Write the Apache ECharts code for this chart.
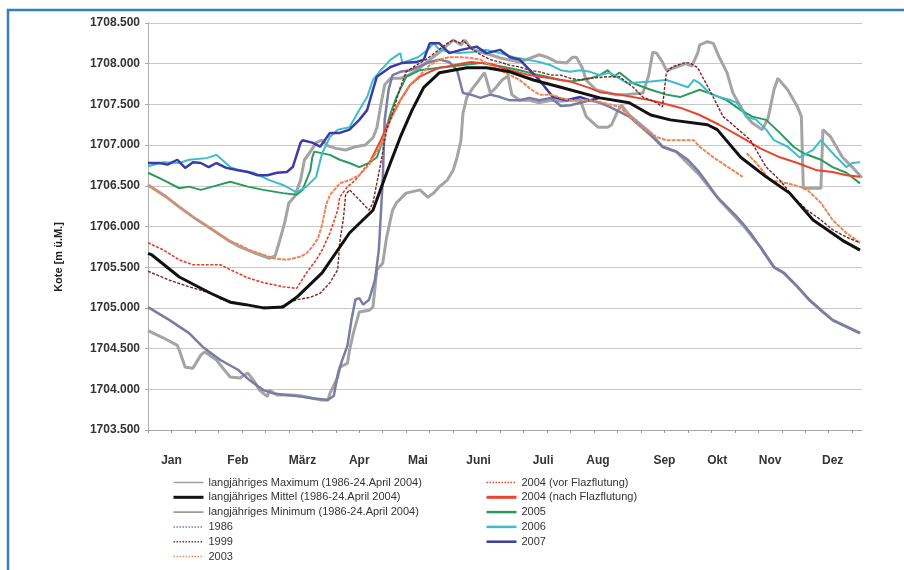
<!DOCTYPE html>
<html><head><meta charset="utf-8">
<script src="https://cdn.jsdelivr.net/npm/echarts@6/dist/echarts.min.js"></script>
<style>html,body{margin:0;padding:0;background:#fff}#c{width:904px;height:570px}</style>
</head><body><div id="c"></div>
<script>
// ---- axis / label data ----
const monthNames = ['Jan','Feb','März','Apr','Mai','Juni','Juli','Aug','Sep','Okt','Nov','Dez'];
const monthLabelDays = [12,46,79,108,138,169,202,230,264,291,318,350];
const yAxisMin = 1703.5, yAxisMax = 1708.5, yAxisStep = 0.5;

// ---- series values: [day of year, Kote m ü.M.] ----
const maxLevel = [[0,1706.51],[9,1706.37],[16,1706.24],[24,1706.10],[33,1705.96],[41,1705.83],[47,1705.75],[55,1705.67],[62,1705.61],[65,1705.64],[67,1705.80],[70,1706.06],[72,1706.29],[75,1706.37],[78,1706.57],[80,1706.82],[83,1706.92],[86,1707.03],[89,1707.06],[92,1706.99],[96,1706.96],[101,1706.94],[106,1706.98],[111,1707.00],[115,1707.09],[117,1707.21],[119,1707.49],[121,1707.74],[124,1707.82],[129,1707.82],[134,1707.87],[139,1707.95],[144,1708.05],[149,1708.14],[153,1708.23],[156,1708.29],[160,1708.23],[162,1708.29],[165,1708.19],[170,1708.14],[175,1708.11],[180,1708.07],[190,1708.02],[200,1708.11],[204,1708.08],[209,1708.02],[214,1708.01],[217,1708.08],[219,1708.08],[222,1707.95],[224,1707.80],[229,1707.68],[234,1707.65],[239,1707.62],[244,1707.62],[249,1707.63],[253,1707.64],[256,1707.86],[258,1708.14],[260,1708.13],[263,1708.02],[265,1707.92],[269,1707.95],[275,1708.00],[278,1707.97],[281,1708.13],[282,1708.23],[286,1708.27],[289,1708.25],[292,1708.08],[296,1707.89],[299,1707.64],[303,1707.47],[306,1707.35],[309,1707.27],[314,1707.19],[317,1707.33],[320,1707.68],[322,1707.82],[327,1707.68],[332,1707.47],[334,1707.35],[335,1706.47],[344,1706.47],[345,1707.19],[349,1707.10],[355,1706.85],[360,1706.73],[365,1706.60]];
const meanLevel = [[0,1705.67],[2,1705.65],[16,1705.38],[32,1705.18],[42,1705.07],[50,1705.04],[59,1705.00],[69,1705.01],[76,1705.13],[89,1705.43],[103,1705.92],[115,1706.20],[122,1706.66],[129,1707.10],[135,1707.43],[141,1707.71],[149,1707.89],[163,1707.95],[173,1707.95],[185,1707.90],[197,1707.80],[211,1707.71],[231,1707.58],[246,1707.52],[257,1707.37],[267,1707.31],[286,1707.25],[291,1707.19],[303,1706.85],[316,1706.61],[328,1706.41],[340,1706.08],[355,1705.83],[364,1705.71]];
const minLevel = [[0,1704.72],[8,1704.63],[15,1704.54],[16,1704.48],[19,1704.27],[23,1704.26],[27,1704.42],[29,1704.46],[35,1704.36],[42,1704.15],[47,1704.14],[51,1704.20],[54,1704.11],[57,1703.99],[61,1703.91],[62,1703.99],[66,1703.93],[73,1703.93],[78,1703.92],[84,1703.89],[88,1703.87],[92,1703.87],[93,1703.95],[97,1704.15],[98,1704.27],[102,1704.32],[103,1704.48],[105,1704.69],[108,1704.95],[113,1704.97],[115,1705.01],[117,1705.47],[120,1705.55],[122,1705.87],[125,1706.20],[127,1706.29],[132,1706.41],[139,1706.45],[143,1706.36],[146,1706.41],[149,1706.49],[153,1706.57],[156,1706.69],[158,1706.85],[160,1707.06],[161,1707.39],[163,1707.59],[166,1707.70],[168,1707.76],[172,1707.89],[175,1707.64],[178,1707.71],[181,1707.80],[184,1707.85],[186,1707.62],[190,1707.55],[195,1707.55],[200,1707.52],[206,1707.55],[211,1707.54],[216,1707.55],[221,1707.55],[224,1707.35],[230,1707.22],[235,1707.22],[237,1707.25],[240,1707.41],[242,1707.49],[246,1707.37],[257,1707.15],[263,1706.98],[270,1706.92],[282,1706.63],[292,1706.33],[304,1706.02],[313,1705.75],[320,1705.50],[325,1705.43],[332,1705.26],[338,1705.10],[345,1704.95],[350,1704.85],[357,1704.77],[364,1704.69]];
const y1986 = [[0,1705.01],[11,1704.85],[21,1704.69],[28,1704.52],[37,1704.36],[46,1704.24],[52,1704.11],[59,1703.99],[64,1703.95],[71,1703.93],[78,1703.91],[84,1703.89],[92,1703.87],[95,1703.92],[97,1704.18],[99,1704.34],[102,1704.54],[104,1704.85],[106,1705.10],[108,1705.12],[110,1705.04],[113,1705.10],[116,1705.34],[118,1705.71],[119,1706.14],[120,1706.57],[121,1707.31],[123,1707.68],[125,1707.86],[129,1707.90],[134,1707.92],[139,1707.97],[144,1708.02],[149,1708.05],[154,1708.02],[158,1707.92],[161,1707.64],[165,1707.62],[170,1707.58],[175,1707.62],[180,1707.59],[185,1707.55],[190,1707.55],[195,1707.58],[200,1707.55],[206,1707.58],[211,1707.48],[216,1707.49],[221,1707.52],[226,1707.55],[231,1707.52],[236,1707.47],[246,1707.35],[257,1707.12],[263,1706.98],[270,1706.92],[276,1706.82],[281,1706.69],[286,1706.53],[291,1706.36],[296,1706.24],[301,1706.12],[304,1706.04],[308,1705.92],[313,1705.75],[320,1705.50],[325,1705.43],[332,1705.26],[338,1705.10],[345,1704.95],[350,1704.85],[357,1704.77],[364,1704.69]];
const y1999 = [[0,1705.45],[11,1705.34],[21,1705.26],[32,1705.18],[38,1705.10],[46,1705.06],[56,1705.01],[66,1705.00],[76,1705.10],[83,1705.13],[88,1705.18],[93,1705.31],[97,1705.47],[98,1705.80],[100,1706.12],[101,1706.39],[103,1706.45],[108,1706.33],[113,1706.20],[115,1706.29],[119,1706.78],[122,1707.19],[125,1707.39],[129,1707.71],[132,1707.90],[137,1707.98],[142,1708.05],[147,1708.14],[153,1708.25],[156,1708.29],[160,1708.25],[161,1708.29],[165,1708.19],[170,1708.11],[175,1708.05],[180,1708.02],[185,1707.98],[190,1707.96],[195,1707.92],[200,1707.90],[206,1707.86],[211,1707.86],[216,1707.82],[221,1707.80],[226,1707.82],[235,1707.84],[241,1707.84],[248,1707.71],[253,1707.59],[260,1707.52],[263,1707.47],[265,1707.89],[268,1707.96],[274,1708.01],[277,1708.01],[281,1707.95],[287,1707.68],[294,1707.35],[298,1707.27],[308,1707.06],[316,1706.73],[323,1706.57],[330,1706.36],[337,1706.20],[344,1706.08],[350,1705.96],[357,1705.87],[364,1705.80]];
const y2003 = [[0,1706.51],[9,1706.37],[16,1706.24],[24,1706.10],[33,1705.96],[41,1705.83],[47,1705.77],[52,1705.71],[57,1705.67],[64,1705.61],[71,1705.59],[78,1705.63],[81,1705.67],[84,1705.75],[87,1705.86],[89,1706.02],[91,1706.26],[93,1706.39],[96,1706.47],[98,1706.53],[103,1706.57],[108,1706.63],[113,1706.76],[119,1707.00],[124,1707.31],[129,1707.55],[134,1707.74],[139,1707.86],[144,1707.98],[149,1708.05],[154,1708.08],[160,1708.08],[165,1708.07],[170,1708.05],[175,1707.98],[180,1707.92],[185,1707.86],[190,1707.80],[195,1707.70],[200,1707.62],[206,1707.62],[211,1707.58],[216,1707.55],[221,1707.55],[226,1707.55],[231,1707.53],[241,1707.47],[252,1707.22],[260,1707.10],[265,1707.06],[272,1707.06],[279,1707.06],[282,1706.98],[289,1706.85],[299,1706.69],[304,1706.61],[305,'-'],[306,1706.90],[311,1706.78],[318,1706.57],[327,1706.53],[333,1706.49],[337,1706.45],[344,1706.29],[350,1706.08],[357,1705.92],[364,1705.80]];
const y2004vor = [[0,1705.80],[8,1705.71],[16,1705.59],[23,1705.53],[37,1705.53],[42,1705.47],[51,1705.37],[59,1705.31],[69,1705.26],[76,1705.24],[81,1705.43],[86,1705.59],[89,1705.71],[93,1705.92],[97,1706.20],[98,1706.36],[102,1706.49],[106,1706.57],[110,1706.69],[114,1706.82]];
const y2004nach = [[114,1706.82],[119,1707.06],[124,1707.33],[129,1707.55],[134,1707.74],[139,1707.84],[144,1707.90],[149,1707.95],[154,1707.97],[160,1708.00],[165,1708.02],[170,1708.01],[175,1708.00],[180,1707.96],[185,1707.92],[190,1707.89],[195,1707.86],[200,1707.84],[206,1707.82],[211,1707.80],[216,1707.78],[221,1707.74],[226,1707.70],[231,1707.65],[241,1707.62],[257,1707.55],[272,1707.46],[282,1707.37],[292,1707.25],[303,1707.10],[313,1706.96],[323,1706.85],[332,1706.78],[342,1706.69],[350,1706.67],[357,1706.63],[364,1706.61]];
const y2005 = [[0,1706.66],[8,1706.57],[16,1706.47],[21,1706.49],[27,1706.45],[33,1706.49],[42,1706.55],[51,1706.49],[59,1706.45],[69,1706.41],[76,1706.39],[79,1706.45],[83,1706.69],[84,1706.85],[85,1706.92],[93,1706.88],[98,1706.82],[103,1706.78],[108,1706.73],[113,1706.78],[117,1706.85],[120,1707.06],[124,1707.39],[127,1707.59],[132,1707.84],[139,1707.92],[149,1707.95],[160,1707.98],[170,1708.01],[180,1707.97],[190,1707.92],[200,1707.86],[211,1707.80],[216,1707.78],[221,1707.80],[226,1707.82],[231,1707.86],[235,1707.92],[238,1707.84],[241,1707.89],[248,1707.76],[257,1707.68],[265,1707.62],[272,1707.59],[282,1707.68],[289,1707.62],[296,1707.55],[303,1707.43],[309,1707.35],[316,1707.31],[323,1707.15],[330,1706.98],[335,1706.90],[344,1706.82],[350,1706.73],[357,1706.66],[364,1706.53]];
const y2006 = [[0,1706.74],[8,1706.79],[16,1706.78],[21,1706.82],[30,1706.84],[35,1706.88],[42,1706.73],[47,1706.69],[54,1706.66],[62,1706.57],[69,1706.51],[76,1706.42],[81,1706.49],[86,1706.61],[89,1706.90],[93,1707.10],[97,1707.19],[103,1707.22],[108,1707.43],[112,1707.59],[115,1707.80],[119,1707.92],[124,1708.05],[129,1708.13],[130,1708.01],[138,1708.08],[143,1708.17],[146,1708.25],[149,1708.17],[158,1708.13],[165,1708.14],[173,1708.17],[180,1708.13],[187,1708.08],[194,1708.05],[200,1708.02],[206,1707.98],[211,1707.92],[216,1707.90],[221,1707.92],[226,1707.90],[231,1707.86],[236,1707.89],[245,1707.76],[257,1707.78],[265,1707.80],[270,1707.76],[276,1707.71],[279,1707.80],[282,1707.76],[287,1707.64],[292,1707.59],[298,1707.55],[301,1707.52],[306,1707.35],[311,1707.31],[316,1707.19],[320,1707.06],[327,1706.98],[333,1706.85],[340,1706.94],[344,1707.06],[347,1706.98],[352,1706.85],[357,1706.73],[360,1706.78],[364,1706.79]];
const y2007 = [[0,1706.78],[6,1706.78],[10,1706.76],[15,1706.82],[19,1706.72],[23,1706.79],[27,1706.78],[31,1706.73],[35,1706.78],[40,1706.72],[46,1706.69],[51,1706.67],[56,1706.63],[61,1706.63],[66,1706.66],[71,1706.67],[74,1706.73],[78,1707.03],[79,1707.06],[84,1707.03],[88,1706.98],[93,1707.15],[98,1707.15],[103,1707.19],[108,1707.31],[112,1707.43],[115,1707.68],[117,1707.84],[124,1707.96],[130,1708.01],[137,1708.02],[141,1708.05],[144,1708.25],[149,1708.25],[154,1708.13],[160,1708.17],[168,1708.21],[173,1708.13],[180,1708.17],[185,1708.08],[190,1708.05],[200,1707.80],[207,1707.59],[214,1707.55],[221,1707.59],[226,1707.55],[231,1707.58]];

// ---- chart ----
const font = 'Liberation Sans, Arial, sans-serif';
const chart = echarts.init(document.getElementById('c'));
const tickDays = [];
for (let d = 0; d <= 360; d += 12) tickDays.push(d);

function line(name, data, color, width, type, z) {
  return { name, type: 'line', data, symbol: 'none', showSymbol: false, connectNulls: false,
    lineStyle: { color, width, type: type || 'solid' }, itemStyle: { color }, z: z || 2,
    emphasis: { disabled: true }, animation: false };
}
const N = {
  max: 'langjähriges Maximum (1986-24.April 2004)',
  mean: 'langjähriges Mittel (1986-24.April 2004)',
  min: 'langjähriges Minimum (1986-24.April 2004)'
};
const legendText = { fontSize: 11, color: '#333', fontFamily: font };
const noMark = { opacity: 0 };
function li(name, color, width, type) {
  return { name, itemStyle: noMark, lineStyle: { width, color, type: type || 'solid' } };
}
chart.setOption({
  backgroundColor: '#fff',
  animation: false,
  grid: { left: 148, right: 42, top: 23, bottom: 140 },
  xAxis: {
    type: 'value', min: 0, max: 365,
    axisLine: { show: true, lineStyle: { color: '#a8a8a8', width: 1 } },
    splitLine: { show: false },
    axisTick: { show: true, customValues: tickDays, length: 3, lineStyle: { color: '#999' } },
    axisLabel: { customValues: monthLabelDays, margin: 25, fontSize: 12, fontWeight: 'bold', color: '#333', fontFamily: font,
      formatter: v => monthNames[monthLabelDays.indexOf(v)] }
  },
  yAxis: {
    type: 'value', min: yAxisMin, max: yAxisMax, interval: yAxisStep,
    axisLine: { show: true, lineStyle: { color: '#b0b0b0', width: 1 } },
    axisTick: { show: true, length: 3, lineStyle: { color: '#aaa' } },
    splitLine: { show: true, lineStyle: { color: '#c8c8c8', width: 1.2 } },
    axisLabel: { margin: 8, fontSize: 12, fontWeight: 'bold', color: '#333', fontFamily: font, formatter: v => v.toFixed(3) }
  },
  legend: [
    { left: 172, top: 477, orient: 'vertical', itemWidth: 30, itemHeight: 10, itemGap: 3.8, padding: 0,
      textStyle: legendText, selectedMode: false, itemStyle: noMark,
      data: [
        li(N.max, '#a0a0a0', 1.5),
        li(N.mean, '#111', 3),
        li(N.min, '#8a8a8a', 1.5),
        li('1986', '#7a7fa8', 1.5, 'dotted'),
        li('1999', '#8b2a2a', 1.5, 'dotted'),
        li('2003', '#f08a5a', 1.5, 'dotted')
      ] },
    { left: 485, top: 477, orient: 'vertical', itemWidth: 30, itemHeight: 10, itemGap: 3.8, padding: 0,
      textStyle: legendText, selectedMode: false, itemStyle: noMark,
      data: [
        li('2004 (vor Flazflutung)', '#e0402a', 1.5, 'dotted'),
        li('2004 (nach Flazflutung)', '#e8442e', 3),
        li('2005', '#2b9a5c', 2.5),
        li('2006', '#3fbccc', 2.5),
        li('2007', '#3b3ba8', 2.5)
      ] }
  ],
  graphic: [
    { type: 'rect', shape: { x: 8, y: 10, width: 1000, height: 700 }, silent: true,
      style: { fill: 'none', stroke: '#3b7bbf', lineWidth: 2.5 }, z: 100 },
    { type: 'text', x: 59, y: 257, rotation: Math.PI / 2, silent: true,
      style: { text: 'Kote [m ü.M.]', fontSize: 11, fontWeight: 'bold', fill: '#222', fontFamily: font,
        align: 'center', verticalAlign: 'middle' } }
  ],
  series: [
    line(N.max, maxLevel, '#a4a4a4', 3, 'solid', 2),
    line(N.min, minLevel, '#a4a4a4', 3, 'solid', 2),
    line('1986', y1986, '#7a7ca6', 2.5, 'solid', 3),
    line('2005', y2005, '#2b9a5c', 2, 'solid', 3),
    line('2006', y2006, '#3fbccc', 2, 'solid', 3),
    line('2007', y2007, '#3b3ba8', 2.5, 'solid', 3),
    line('2004 (nach Flazflutung)', y2004nach, '#e8442e', 2, 'solid', 4),
    line('2004 (vor Flazflutung)', y2004vor, '#e0402a', 1.6, [3, 1.5], 4),
    line('2003', y2003, '#e8875a', 2, [4, 1], 4),
    line('1999', y1999, '#7d2424', 1.4, [3, 1.5], 5),
    line(N.mean, meanLevel, '#111111', 3, 'solid', 6)
  ]
});
</script></body></html>
